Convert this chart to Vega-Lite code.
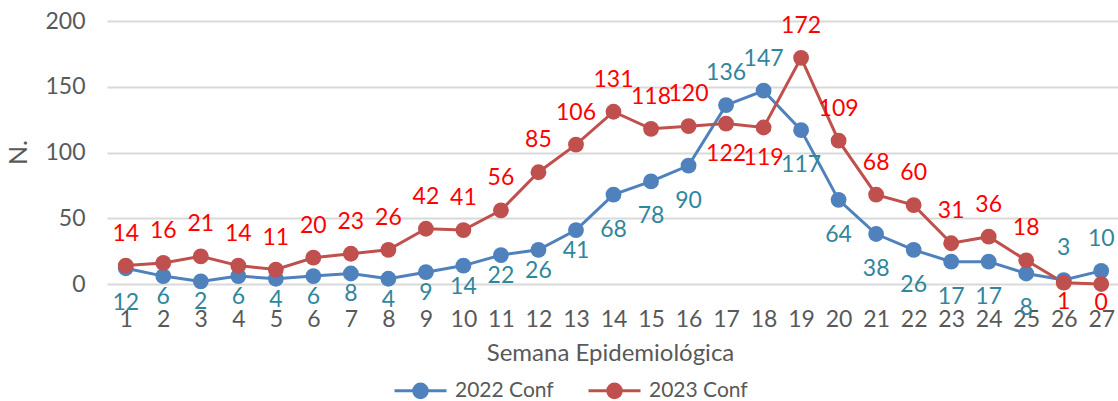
{
  "$schema": "https://vega.github.io/schema/vega-lite/v6.json",
  "autosize": "none",
  "width": 1013,
  "height": 263,
  "padding": {"left": 107, "top": 21, "right": 0, "bottom": 117},
  "background": "white",
  "config": {
    "font": "Lato",
    "view": {"stroke": null},
    "axis": {"labelFont": "Lato", "titleFont": "Lato", "labelColor": "#595959", "titleColor": "#595959", "titleFontWeight": "normal"}
  },
  "data": {"values": [
    {"week": 1, "series": "2022 Conf", "value": 12},
    {"week": 2, "series": "2022 Conf", "value": 6},
    {"week": 3, "series": "2022 Conf", "value": 2},
    {"week": 4, "series": "2022 Conf", "value": 6},
    {"week": 5, "series": "2022 Conf", "value": 4},
    {"week": 6, "series": "2022 Conf", "value": 6},
    {"week": 7, "series": "2022 Conf", "value": 8},
    {"week": 8, "series": "2022 Conf", "value": 4},
    {"week": 9, "series": "2022 Conf", "value": 9},
    {"week": 10, "series": "2022 Conf", "value": 14},
    {"week": 11, "series": "2022 Conf", "value": 22},
    {"week": 12, "series": "2022 Conf", "value": 26},
    {"week": 13, "series": "2022 Conf", "value": 41},
    {"week": 14, "series": "2022 Conf", "value": 68},
    {"week": 15, "series": "2022 Conf", "value": 78},
    {"week": 16, "series": "2022 Conf", "value": 90},
    {"week": 17, "series": "2022 Conf", "value": 136},
    {"week": 18, "series": "2022 Conf", "value": 147},
    {"week": 19, "series": "2022 Conf", "value": 117},
    {"week": 20, "series": "2022 Conf", "value": 64},
    {"week": 21, "series": "2022 Conf", "value": 38},
    {"week": 22, "series": "2022 Conf", "value": 26},
    {"week": 23, "series": "2022 Conf", "value": 17},
    {"week": 24, "series": "2022 Conf", "value": 17},
    {"week": 25, "series": "2022 Conf", "value": 8},
    {"week": 26, "series": "2022 Conf", "value": 3},
    {"week": 27, "series": "2022 Conf", "value": 10},
    {"week": 1, "series": "2023 Conf", "value": 14},
    {"week": 2, "series": "2023 Conf", "value": 16},
    {"week": 3, "series": "2023 Conf", "value": 21},
    {"week": 4, "series": "2023 Conf", "value": 14},
    {"week": 5, "series": "2023 Conf", "value": 11},
    {"week": 6, "series": "2023 Conf", "value": 20},
    {"week": 7, "series": "2023 Conf", "value": 23},
    {"week": 8, "series": "2023 Conf", "value": 26},
    {"week": 9, "series": "2023 Conf", "value": 42},
    {"week": 10, "series": "2023 Conf", "value": 41},
    {"week": 11, "series": "2023 Conf", "value": 56},
    {"week": 12, "series": "2023 Conf", "value": 85},
    {"week": 13, "series": "2023 Conf", "value": 106},
    {"week": 14, "series": "2023 Conf", "value": 131},
    {"week": 15, "series": "2023 Conf", "value": 118},
    {"week": 16, "series": "2023 Conf", "value": 120},
    {"week": 17, "series": "2023 Conf", "value": 122},
    {"week": 18, "series": "2023 Conf", "value": 119},
    {"week": 19, "series": "2023 Conf", "value": 172},
    {"week": 20, "series": "2023 Conf", "value": 109},
    {"week": 21, "series": "2023 Conf", "value": 68},
    {"week": 22, "series": "2023 Conf", "value": 60},
    {"week": 23, "series": "2023 Conf", "value": 31},
    {"week": 24, "series": "2023 Conf", "value": 36},
    {"week": 25, "series": "2023 Conf", "value": 18},
    {"week": 26, "series": "2023 Conf", "value": 1},
    {"week": 27, "series": "2023 Conf", "value": 0}
  ]},
  "encoding": {
    "x": {
      "field": "week", "type": "ordinal",
      "scale": {"type": "point", "padding": 0.5},
      "axis": {
        "title": "Semana Epidemiológica", "titleFontSize": 24, "titleX": 503, "titleY": 69, "titleBaseline": "middle",
        "labelAngle": 0, "labelFontSize": 23, "labelPadding": 35, "labelBaseline": "middle",
        "ticks": false, "tickSize": 0, "domain": false, "grid": false
      }
    },
    "y": {
      "field": "value", "type": "quantitative",
      "scale": {"domain": [0, 200]},
      "axis": {
        "title": "N.", "titleFontSize": 25, "titleX": -89, "titleY": 131, "titleBaseline": "middle", "titleAngle": -90,
        "values": [0, 50, 100, 150, 200], "labelFontSize": 23, "labelPadding": 22,
        "ticks": false, "domain": false, "grid": true, "gridColor": "#d9d9d9", "gridWidth": 2
      }
    }
  },
  "layer": [
    {
      "mark": {"type": "line", "strokeWidth": 3, "point": {"filled": true, "size": 250, "opacity": 1}},
      "encoding": {
        "color": {
          "field": "series", "type": "nominal",
          "scale": {"domain": ["2022 Conf", "2023 Conf"], "range": ["#4f81bd", "#c0504d"]},
          "legend": {
            "title": null, "orient": "none", "direction": "horizontal", "legendX": 286, "legendY": 342,
            "symbolType": "M-1,0L1,0M0.26,0A0.26,0.26,0,1,1,-0.26,0A0.26,0.26,0,1,1,0.26,0Z",
            "symbolSize": 2704, "symbolStrokeWidth": 3, "labelFontSize": 21, "labelColor": "#595959", "labelFont": "Lato",
            "labelOffset": 7, "columnPadding": 28,
            "encode": {"symbols": {"update": {"fill": {"scale": "color", "field": "value"}, "fillOpacity": {"value": 1}}}}
          }
        }
      }
    },
    {
      "transform": [{"filter": "datum.series == '2022 Conf' && indexof([17,18,26,27], datum.week) >= 0"}],
      "mark": {"type": "text", "fontSize": 23, "dy": -32, "baseline": "middle", "color": "#31859c"},
      "encoding": {"text": {"field": "value", "type": "quantitative"}}
    },
    {
      "transform": [{"filter": "datum.series == '2022 Conf' && datum.week >= 2 && datum.week <= 13"}],
      "mark": {"type": "text", "fontSize": 23, "dy": 21, "baseline": "middle", "color": "#31859c"},
      "encoding": {"text": {"field": "value", "type": "quantitative"}}
    },
    {
      "transform": [{"filter": "datum.series == '2022 Conf' && (datum.week == 1 || (datum.week >= 14 && indexof([17,18,26,27], datum.week) < 0))"}],
      "mark": {"type": "text", "fontSize": 23, "dy": 35, "baseline": "middle", "color": "#31859c"},
      "encoding": {"text": {"field": "value", "type": "quantitative"}}
    },
    {
      "transform": [{"filter": "datum.series == '2023 Conf' && indexof([17,18,26,27], datum.week) < 0"}],
      "mark": {"type": "text", "fontSize": 23, "dy": -32, "baseline": "middle", "color": "#ff0000"},
      "encoding": {"text": {"field": "value", "type": "quantitative"}}
    },
    {
      "transform": [{"filter": "datum.series == '2023 Conf' && (datum.week == 17 || datum.week == 18)"}],
      "mark": {"type": "text", "fontSize": 23, "dy": 30, "baseline": "middle", "color": "#ff0000"},
      "encoding": {"text": {"field": "value", "type": "quantitative"}}
    },
    {
      "transform": [{"filter": "datum.series == '2023 Conf' && datum.week >= 26"}],
      "mark": {"type": "text", "fontSize": 23, "dy": 19, "baseline": "middle", "color": "#ff0000"},
      "encoding": {"text": {"field": "value", "type": "quantitative"}}
    }
  ]
}
